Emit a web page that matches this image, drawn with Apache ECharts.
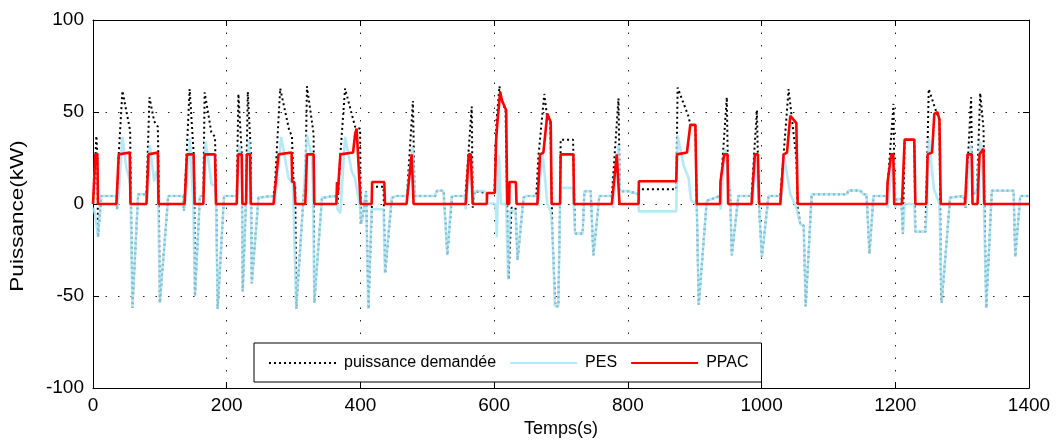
<!DOCTYPE html>
<html>
<head>
<meta charset="utf-8">
<script src="https://cdn.jsdelivr.net/npm/echarts@6/dist/echarts.min.js"></script>
<style>
  html, body { margin: 0; padding: 0; background: #fff; }
  #chart { width: 1061px; height: 443px; }
</style>
</head>
<body>
<div id="chart"></div>
<script>
// Time (s) / power (kW) samples for each signal
const demande = [
  [0,0],[2,10],[5,37],[6.5,27],[7.5,-18],[12.5,4.4],[35,4.4],[36,-3],[38.5,27],[44,61.5],[55.5,40],[56,25],
  [59,-56.5],[67.5,5.3],[80,5.3],[81,5],[84.5,58],[91.5,45],[97,42],[98,20],[100,-53.7],[112.5,4.4],[135,4.4],
  [136,-3.7],[140,27],[144.5,62.5],[150.5,28],[151.5,10],[152.5,-50],[160,4.4],[165,4.4],[167,60.7],[177,39],
  [182.5,36.5],[184,10],[186.5,-57],[196,4.4],[215,4.4],[217.5,59.8],[222.5,27],[224,-47.4],[229,4],[231.5,61],
  [236,28.5],[237.5,-43],[247.5,3.5],[270,4.4],[272,10],[280,62.8],[293.5,40],[297.5,37],[300,12],[302.5,10],
  [304,-57],[315,4.4],[317.5,10],[320,64],[327.5,44.6],[330,38],[331,-53.7],[342.5,3.5],[364,4.4],[366,0],
  [370,27],[377,62.8],[392,42],[395.5,41],[399.5,41],[400.5,-11],[405,-3],[408.5,7],[412,-57],[417,-2.8],
  [417.5,9.4],[434.5,9.4],[437,-37.6],[447,3.5],[454.5,4.4],[469.5,4.4],[478.5,56],[481,4.4],[484.5,4.4],
  [512,4.4],[514.5,7.2],[524.5,7.2],[530,-27.8],[537,4.4],[557,4.4],[566.5,53],[568,-2],[571,7],[589,6],
  [600.5,6],[603.5,45],[608,64],[610,58],[617,51],[618.5,51],[621.5,-41],[626,-2],[632,-2],[635,-30.5],
  [644,3.5],[648,4.4],[663,4.4],[666,25],[675,59.8],[679,48],[684,44],[687,-14],[691.5,-55.5],[696,-55.5],
  [698.6,0],[699.5,35],[718,35],[721,-16],[732.4,-16],[735,7],[744.4,7],[748.4,-27.8],[757.4,4.4],[776,4.4],
  [786,57.4],[788,7],[801,7],[816,5.3],[816.5,8],[872.4,8],[874.4,63.3],[891,47.3],[893.4,43],[901,43],
  [903,0],[906,-54.6],[918,1.8],[938,4.4],[948,58],[950,10],[953,7],[955.4,-27.8],[965.4,4.4],[985,4.4],
  [993,51],[996,0],[1000.4,-28.7],[1010.4,4.4],[1028,4.4],[1033,27],[1040.4,62.5],[1052,25],[1054,-2],
  [1058,-11],[1063,-11.8],[1066,-55.5],[1068,-55.5],[1075,5.3],[1127.4,5.3],[1130,7.4],[1147.4,7.4],
  [1152,5.3],[1157,5.3],[1161.4,-27],[1167.4,4.4],[1187.4,4.4],[1197.4,54.4],[1199,0],[1202,2.7],[1209,2.7],
  [1211.4,-16],[1214,35],[1228.4,35],[1230,-15],[1245,-15],[1248,27],[1250,62.5],[1261.4,50],[1266,46],
  [1268.4,-50],[1269.4,-53.7],[1282,3.5],[1302,4.4],[1305,-2],[1313.4,58],[1315.5,5],[1322,7],[1327,60.3],
  [1332,41],[1333,10],[1336,-56.5],[1344.4,7.2],[1377,7.2],[1379.4,-28.7],[1387,4.4],[1400,4.4]
];

const pes = [
  [0,-2],[3,-5],[7.5,-18],[12.5,4.4],[35,4.4],[36,-3],[38.5,5],[44,36.5],[50,19.6],[54,14],[56,10],[59,-56.5],
  [67.5,5.3],[80,5.3],[81,0],[85,32],[91.5,12.4],[95,17.8],[97,15],[100,-53.7],[112.5,4.4],[135,4.4],[136,-3.7],
  [139,5],[145,35.7],[150,0],[152.5,-50],[160,4.4],[165,4.4],[168.5,34],[177.5,10.6],[182.5,10],[184,0],
  [186.5,-57],[196,4.4],[215,4.4],[219,32],[222.5,20],[224,-47.4],[229,4],[233.5,35],[236,10],[237.5,-43],
  [247.5,3.5],[270,4.4],[272,0],[281.5,36.5],[292.5,14],[299,11],[304,-57],[315,4.4],[320,37.4],[327.5,25],
  [329,10],[331,-53.7],[342.5,3.5],[364,4.4],[366,-2.8],[370,-5],[377,36.5],[387,17.8],[392,14],[399.3,-2],
  [401.5,-10.8],[408.3,7],[411.8,-57],[416.8,-2.8],[434.5,-2.8],[436.7,-37.6],[446.7,3.5],[454.5,4.4],
  [469.5,4.4],[478,31],[481.6,4.4],[511.5,4.4],[514,7.2],[524,7.2],[530,-27.8],[536.4,4.4],[556,4.4],
  [557.5,-2.8],[565,25.8],[568,0],[571,7],[586,7],[589,5],[590,0.3],[601,0.3],[603,-5],[604,-18],[607,26.7],
  [610,0],[618,0],[621,-41],[623.5,-3.7],[632,-3.7],[635,-30.5],[644,3.5],[648,4.4],[664,4.4],[665,-1],
  [672.6,27.6],[679.6,0],[684.6,-3.7],[687,-14],[691,-55.5],[696,-55.5],[698.6,0],[699.5,8.8],[718,8.8],
  [721,-16],[732.4,-16],[735,7],[744.4,7],[748.4,-27.8],[757.4,4.4],[776,4.4],[778,-2],[786,32],[788,7],
  [801,7],[816,5.3],[816.5,-4],[872.4,-4],[874.4,37.4],[883.4,21],[891,14],[894.5,1.8],[903,0],[906,-54.6],
  [918,1.8],[938,4.4],[939,-3],[945.4,30],[953,7],[955.4,-27.8],[965.4,4.4],[985,4.4],[986,-1],[992,25],
  [996,0],[1000.4,-28.7],[1010.4,4.4],[1028,4.4],[1029,-1],[1034,25],[1043,5.3],[1052,-2],[1058,-11],
  [1063,-11.8],[1066,-55.5],[1068,-55.5],[1075,5.3],[1127.4,5.3],[1130,7.4],[1147.4,7.4],[1152,5.3],
  [1157,5.3],[1161.4,-27],[1167.4,4.4],[1187.4,4.4],[1188.5,-2],[1196.4,26.7],[1200,-2],[1202,2.7],
  [1209,2.7],[1211.4,-16],[1214,0],[1228.4,0],[1230,-15],[1245,-15],[1248,0],[1250,35.7],[1253,25],[1258,8],
  [1266,0],[1268,0],[1269.4,-53.7],[1282,3.5],[1302,4.4],[1305,-2],[1313.4,32],[1317,5.3],[1322,7],[1327,34],
  [1332,10],[1336,-56.5],[1344.4,7.2],[1377,7.2],[1379.4,-28.7],[1387,4.4],[1400,4.4]
];

const ppac = [
  [0,0],[1,0],[3.5,27],[6.5,27],[7.5,0],[35,0],[38.5,27],[55,28],[56,0],[80,0],[83,27],[97,28],[98,0],
  [137,0],[140.5,27],[150.5,27],[152,0],[165,0],[167,27],[182.5,27],[184,0],[215,0],[217,27],[222.5,27],
  [223.5,0],[229,0],[230,27],[235,27],[236,0],[270,0],[277.5,27],[297,28],[298,12],[301,12],[302.5,0],
  [317.5,0],[320,27],[330,27],[331,0],[364,0],[365,12],[366,5],[370,27],[389,28],[392,38],[394.3,41],
  [397,40],[400.3,0],[416.8,0],[417.5,12],[435.7,12],[436.7,0],[469,0],[476.6,27],[478,27],[479.5,0],
  [557.5,0],[562,27],[565,27],[568,0],[589,0],[589.5,6],[601,6],[603,35],[605,45],[609,60.7],[612,56],
  [618,51],[619.5,0],[622.5,0],[623,12],[632.5,12],[633.5,0],[664.7,0],[668.7,27],[673.6,28],[679.6,49],
  [684.6,44.6],[686,0],[698.6,0],[699.5,27],[718.5,27],[719.5,0],[776,0],[783.4,27],[786,27],[787.5,0],
  [816,0],[816.5,12.4],[872.4,12.4],[873.4,27],[888.4,28],[893.4,43],[901,43],[903,0],[938,0],[938.5,12],
  [944,27],[946,28],[949,27],[950,0],[985,0],[990,27],[994.5,27],[996.4,0],[1028,0],[1033,27],[1038,28],
  [1043,48],[1052,44],[1054,0],[1187.4,0],[1188.5,12],[1194,27],[1197,27],[1198.4,0],[1210,0],[1214,35],
  [1228.4,35],[1230,0],[1246.4,0],[1248.4,27],[1255,28],[1258.4,49],[1263,50],[1266,46],[1268,0],[1304.4,0],
  [1308,27],[1314.4,27],[1315.5,0],[1323,0],[1326,27],[1331.9,30],[1333,0],[1400,0]
];

const xTicks = { min: 0, max: 1400, step: 200 };
const yTicks = { min: -100, max: 100, step: 50 };

const FONT = '"Liberation Sans", Arial, Helvetica, sans-serif';

const chart = echarts.init(document.getElementById('chart'), null, { renderer: 'canvas' });

const tickStyle = { show: true, inside: true, length: 6, lineStyle: { color: '#000', width: 1 } };
const lineAxis = { show: true, onZero: false, lineStyle: { color: '#000', width: 1 } };
const gridLines = { show: true, lineStyle: { color: '#222', width: 1, type: [1.5, 11] } };
const plainNumber = v => String(v);

chart.setOption({
  animation: false,
  textStyle: { fontFamily: FONT, color: '#000' },
  grid: { left: 93, right: 32, top: 20, bottom: 50, containLabel: false },
  xAxis: [
    {
      type: 'value', position: 'bottom',
      min: xTicks.min, max: xTicks.max, interval: xTicks.step,
      axisLine: lineAxis, axisTick: tickStyle, splitLine: gridLines,
      axisLabel: { color: '#000', fontSize: 19, margin: 8, fontFamily: FONT, formatter: plainNumber },
      name: 'Temps(s)', nameLocation: 'middle', nameGap: 29,
      nameTextStyle: { color: '#000', fontSize: 18, fontFamily: FONT }
    },
    {
      type: 'value', position: 'top',
      min: xTicks.min, max: xTicks.max, interval: xTicks.step,
      axisLine: lineAxis, axisTick: tickStyle, splitLine: { show: false },
      axisLabel: { show: false }
    }
  ],
  yAxis: [
    {
      type: 'value', position: 'left',
      min: yTicks.min, max: yTicks.max, interval: yTicks.step,
      axisLine: lineAxis, axisTick: tickStyle, splitLine: gridLines,
      axisLabel: { color: '#000', fontSize: 19, margin: 9, fontFamily: FONT, formatter: plainNumber }
    },
    {
      type: 'value', position: 'right',
      min: yTicks.min, max: yTicks.max, interval: yTicks.step,
      axisLine: lineAxis, axisTick: tickStyle, splitLine: { show: false },
      axisLabel: { show: false }
    }
  ],
  legend: {
    left: 254, top: 343,
    orient: 'horizontal',
    backgroundColor: '#fff', borderColor: '#000', borderWidth: 1, borderRadius: 0,
    padding: [12, 13, 11, 14],
    itemWidth: 67, itemHeight: 16, itemGap: 13,
    itemStyle: { opacity: 0 },
    textStyle: { color: '#000', fontSize: 16, fontFamily: FONT, padding: [0, 0, 0, 3] },
    data: ['puissance demandée', 'PES', 'PPAC']
  },
  graphic: [
    {
      type: 'text', x: 18.5, y: 216, rotation: Math.PI / 2, scaleX: 1.25,
      style: {
        text: 'Puissance(kW)', fill: '#000', font: '18px ' + FONT,
        align: 'center', verticalAlign: 'middle'
      }
    }
  ],
  series: [
    {
      name: 'puissance demandée', type: 'line', data: demande,
      symbol: 'none', z: 2,
      lineStyle: { color: '#000', width: 2, type: [2, 3] },
      itemStyle: { color: '#000' }
    },
    {
      name: 'PES', type: 'line', data: pes,
      symbol: 'none', z: 3,
      lineStyle: { color: '#a6e4f7', width: 2.6, opacity: 0.82 },
      itemStyle: { color: '#a6e4f7' }
    },
    {
      name: 'PPAC', type: 'line', data: ppac,
      symbol: 'none', z: 4,
      lineStyle: { color: '#ff0000', width: 2.6 },
      itemStyle: { color: '#ff0000' }
    }
  ]
});
</script>
</body>
</html>
